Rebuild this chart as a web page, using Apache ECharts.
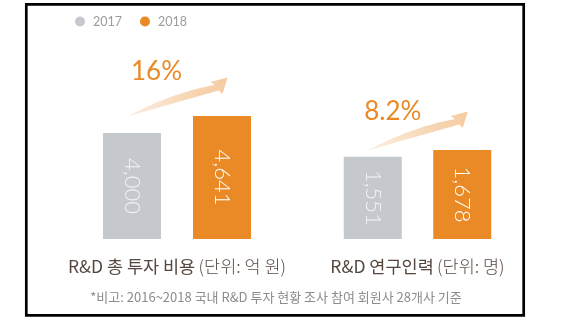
<!DOCTYPE html>
<html>
<head>
<meta charset="utf-8">
<script src="https://cdn.jsdelivr.net/npm/echarts@6/dist/echarts.min.js"></script>
<style>
html,body{margin:0;padding:0;background:#fff;}
#main{width:571px;height:321px;}
</style>
</head>
<body>
<div id="main"></div>
<script>
// ---- data ----
const categories = ['2017', '2018'];
const investValues = [4000, 4641];      // 억 원
const researcherValues = [1551, 1678];  // 명
const growthLabels = ['16%', '8.2%'];
const groupTitles = [['R&D 총 투자 비용', '(단위: 억 원)'], ['R&D 연구인력', '(단위: 명)']];
const footnote = '*비고: 2016~2018 국내 R&D 투자 현황 조사 참여 회원사 28개사 기준';

// ---- style ----
const GRAY = '#c5c8cc';
const ORANGE = '#e98a26';
const KR = '"Noto Sans CJK KR", "Noto Sans", sans-serif';
const LAT = 'Lato, "Noto Sans", sans-serif';

const groups = [investValues, researcherValues];
const yMax = [6000, 3000];
const grids = [
  {left: 87, width: 180, top: 80, height: 159},
  {left: 328, width: 179, top: 80, height: 159}
];

function fmt(v) { return Number(v).toLocaleString('en-US'); }

const xAxes = [], yAxes = [], series = [];
groups.forEach((vals, g) => {
  xAxes.push({
    type: 'category', gridIndex: g, data: categories,
    axisLine: {show: false}, axisTick: {show: false}, axisLabel: {show: false},
    name: '{a|' + groupTitles[g][0] + '} {b|' + groupTitles[g][1] + '}',
    nameLocation: 'middle', nameGap: 19,
    nameTextStyle: {
      rich: {
        a: {fontFamily: KR, fontSize: 17.5, fontWeight: 400, color: '#55463f'},
        b: {fontFamily: KR, fontSize: 17.5, fontWeight: 300, color: '#5a4c45'}
      }
    }
  });
  yAxes.push({
    type: 'value', gridIndex: g, min: 0, max: yMax[g],
    show: false, splitLine: {show: false}
  });
  categories.forEach((c, i) => {
    const data = categories.map((_, j) => j === i ? vals[i] : '-');
    series.push({
      name: c, type: 'bar', xAxisIndex: g, yAxisIndex: g,
      barWidth: 58, barGap: '-100%',
      data: data,
      itemStyle: {color: i === 0 ? GRAY : ORANGE},
      label: {
        show: true, position: 'inside', rotate: -90,
        align: 'center', verticalAlign: 'middle',
        formatter: p => fmt(p.value),
        fontFamily: LAT, fontWeight: 300, fontSize: 22,
        color: i === 0 ? '#f2f3f5' : '#ffffff'
      },
      emphasis: {disabled: true},
      silent: true
    });
  });
});

const chart = echarts.init(document.getElementById('main'), null, {renderer: 'canvas'});
chart.setOption({
  animation: false,
  backgroundColor: '#ffffff',
  legend: {
    left: 75, top: 15, padding: 0,
    icon: 'circle', itemWidth: 10, itemHeight: 10, itemGap: 18,
    data: categories,
    textStyle: {fontFamily: LAT, fontSize: 12.5, color: '#9c9c9c', padding: [0, 0, 0, 3]},
    selectedMode: false
  },
  grid: grids,
  xAxis: xAxes,
  yAxis: yAxes,
  series: series
});

// ---- annotations anchored to the bars ----
function quad(p0, c, p1, n) {
  const pts = [];
  for (let k = 0; k <= n; k++) {
    const t = k / n, u = 1 - t;
    pts.push([u * u * p0[0] + 2 * u * t * c[0] + t * t * p1[0],
              u * u * p0[1] + 2 * u * t * c[1] + t * t * p1[1]]);
  }
  return pts;
}
function arrowPoints(tx, ty) {
  let pts = quad([-100, 39], [-58, 16], [-13, 7.5], 30);
  pts = pts.concat([[-17, 4.5], [0, 0], [-5, 16.5], [-8.5, 13]]);
  pts = pts.concat(quad([-8.5, 13], [-52, 25], [-100, 39], 30));
  return pts.map(q => [q[0] + tx, q[1] + ty]);
}
const annOffsets = [{dx: -71, dy: -5.5}, {dx: -75, dy: 0}];
const graphics = [];
groups.forEach((vals, g) => {
  const p = chart.convertToPixel({gridIndex: g}, [categories[1], vals[1]]);
  const tx = p[0] + 5.5, ty = p[1] - 38.5;
  graphics.push({
    type: 'polygon', silent: true,
    shape: {points: arrowPoints(tx, ty)},
    style: {
      fill: new echarts.graphic.LinearGradient(0, 0, 1, 0, [
        {offset: 0, color: 'rgba(248,222,196,0.5)'},
        {offset: 0.6, color: 'rgba(246,210,172,0.9)'},
        {offset: 1, color: 'rgba(245,204,162,1)'}
      ])
    }
  });
  graphics.push({
    type: 'text', x: tx + annOffsets[g].dx, y: ty + annOffsets[g].dy, silent: true,
    style: {
      text: growthLabels[g], fill: ORANGE,
      font: '26px ' + LAT,
      textAlign: 'center', textVerticalAlign: 'middle'
    }
  });
});
graphics.push({
  type: 'text', x: 276, y: 297.5, silent: true,
  style: {
    text: footnote, fill: '#8c8c8c', font: '13px ' + KR,
    textAlign: 'center', textVerticalAlign: 'middle'
  }
});
graphics.push({
  type: 'rect', silent: true,
  shape: {x: 26.3, y: 4.3, width: 497.4, height: 311},
  style: {fill: 'none', stroke: '#000', lineWidth: 2.7}
});
chart.setOption({graphic: graphics});
</script>
</body>
</html>
